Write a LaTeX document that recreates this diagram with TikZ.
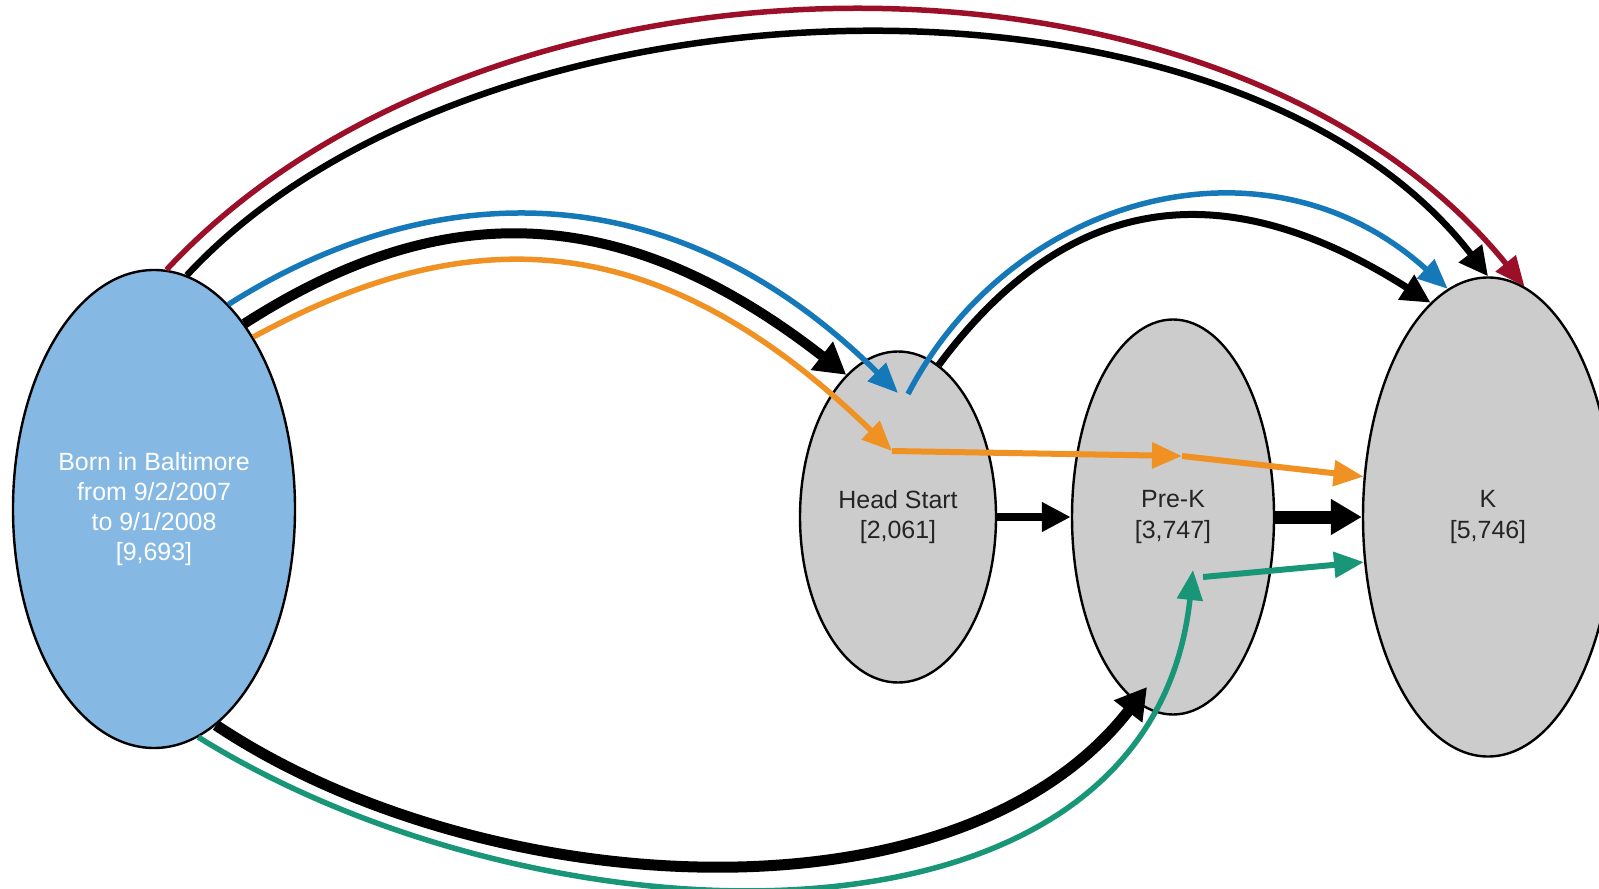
\documentclass[tikz,border=0pt]{standalone}
\usepackage{fontspec}
\setmainfont{Liberation Sans}
\usetikzlibrary{shapes.geometric,arrows.meta}
\newlength{\du}
\setlength{\du}{0.1mm}

\begin{document}
\begin{tikzpicture}[even odd rule,
  stage/.style={ellipse, draw=black, line width=2.4\du, fill=stagefill, inner sep=0pt,
    align=center, text=stagetext, font=\fontsize{7.1}{8.6}\selectfont},
  thinhead/.style={-{Triangle[length=3.0mm,width=2.5mm]}},
  medhead/.style={-{Triangle[length=2.9mm,width=2.8mm]}},
  thickhead/.style={-{Triangle[length=3.1mm,width=3.4mm]}}]
\pgftransformxscale{1.000000}
\pgftransformyscale{-1.000000}
\definecolor{bornfill}{rgb}{0.522, 0.725, 0.890}
\definecolor{stagefill}{rgb}{0.800, 0.800, 0.800}
\definecolor{stagetext}{rgb}{0.140, 0.140, 0.140}
\definecolor{pathred}{rgb}{0.608, 0.059, 0.157}
\definecolor{pathblue}{rgb}{0.078, 0.471, 0.725}
\definecolor{pathorange}{rgb}{0.941, 0.569, 0.137}
\definecolor{pathgreen}{rgb}{0.098, 0.588, 0.471}
\useasboundingbox (0\du,0\du) rectangle (1599\du,889\du);
% stages
\node[stage, fill=bornfill, text=white, minimum width=282\du, minimum height=478\du] (born) at (154\du,509\du) {Born in Baltimore\\from 9/2/2007\\to 9/1/2008\\{[9,693]}};
\node[stage, minimum width=196\du, minimum height=331\du] (hs) at (898\du,517\du) {Head Start\\{[2,061]}};
\node[stage, minimum width=202\du, minimum height=395\du] (pk) at (1173\du,517\du) {Pre-K\\{[3,747]}};
\node[stage, minimum width=250\du, minimum height=479\du] (k) at (1488\du,517\du) {K\\{[5,746]}};
% points inside the stages
\coordinate (hsA) at (898\du,393\du);
\coordinate (hsB) at (908\du,394\du);
\coordinate (hsO) at (892\du,451\du);
\coordinate (pkO) at (1182\du,456\du);
\coordinate (pkG) at (1193\du,570\du);
\coordinate (pkG2) at (1203\du,577\du);
\coordinate (pkB) at (1147\du,687\du);
% born -> K
\draw[pathred, line width=5.5\du, thinhead] (born.87) .. controls (488\du,-76\du) and (1227\du,-80\du) .. (k.81);
\draw[black, line width=6.5\du, medhead] (born.82) .. controls (475\du,-36\du) and (1230\du,-58\du) .. (k.90);
% born -> head start
\draw[pathblue, line width=5.5\du, thinhead] (born.70) .. controls (421\du,182\du) and (665\du,162\du) .. (hsA);
\draw[black, line width=10\du, thickhead] (born.64) .. controls (437\du,200\du) and (617\du,196\du) .. (hs.110);
\draw[pathorange, line width=5.5\du, thinhead] (born.60) .. controls (461\du,224\du) and (652\du,217\du) .. (hsO);
\draw[pathorange, line width=6\du, thinhead] (hsO) -- (pkO);
\draw[pathorange, line width=6\du, thinhead] (pkO) -- (k.162);
% head start -> K
\draw[pathblue, line width=5.5\du, thinhead] (hsB) .. controls (1011\du,195\du) and (1267\du,125\du) .. (k.100);
\draw[black, line width=7\du, medhead] (hs.75) .. controls (1069\du,190\du) and (1225\du,172\du) .. (k.105);
% straight steps
\draw[black, line width=7.5\du, medhead] (hs.east) -- (pk.west);
\draw[black, line width=13\du, thickhead] (pk.east) -- (k.west);
% born -> pre-K
\draw[black, line width=11\du, thickhead] (born.-74) .. controls (478\du,900\du) and (955\du,934\du) .. (pkB);
\draw[pathgreen, line width=5.5\du, thinhead] (born.-79) .. controls (540\du,950\du) and (1150\du,975\du) .. (pkG);
\draw[pathgreen, line width=6\du, thinhead] (pkG2) -- (k.200);
\end{tikzpicture}
\end{document}
